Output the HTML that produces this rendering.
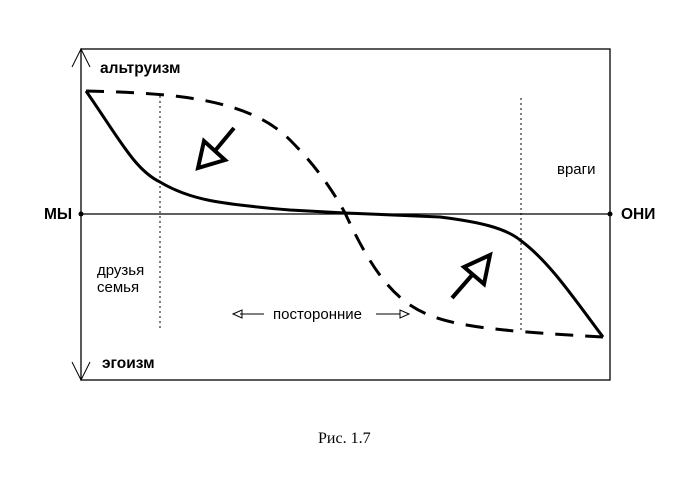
<!DOCTYPE html>
<html><head><meta charset="utf-8"><style>
body{margin:0;background:#fff;width:700px;height:500px;overflow:hidden}
svg{display:block}
text{font-family:"Liberation Sans",sans-serif}
</style></head><body>
<svg width="700" height="500" viewBox="0 0 700 500">
<g fill="none" stroke="#000">
<rect x="81" y="49" width="529" height="331" stroke-width="1.3"/>
<line x1="81" y1="214" x2="610" y2="214" stroke-width="1.3"/>
<polyline points="72,67 81,49 90,67" stroke-width="1"/>
<polyline points="72,362 81,380 90,362" stroke-width="1"/>
<line x1="160" y1="96" x2="160" y2="328" stroke-dasharray="2,3" stroke-width="1"/>
<line x1="521" y1="98" x2="521" y2="332" stroke-dasharray="2,3" stroke-width="1"/>
<path d="M86,91 C120,140 135,170 160,182 C190,200 220,204 290,210 L345,213 L440,217 C480,222 505,228 520,240 C550,262 575,300 603,337" stroke-width="3"/>
<path d="M86,91 C180,93 250,100 290,140 C320,170 335,195 345,213 C360,245 380,285 410,305 C440,325 480,330 603,337" stroke-width="3" stroke-dasharray="18,12"/>
<line x1="234" y1="128" x2="214" y2="152" stroke-width="4"/>
<polygon points="198,168 204,141 225,160" stroke-width="4" stroke-linejoin="miter"/>
<line x1="452" y1="298" x2="473" y2="274" stroke-width="4"/>
<polygon points="490,255 484,284 464,267" stroke-width="4" stroke-linejoin="miter"/>
<line x1="240" y1="314" x2="264" y2="314" stroke-width="1"/>
<polygon points="233,314 242,310 242,318" stroke-width="1"/>
<line x1="376" y1="314" x2="400" y2="314" stroke-width="1"/>
<polygon points="409,314 400,310 400,318" stroke-width="1"/>
</g>
<circle cx="81" cy="214" r="2.5"/>
<circle cx="610" cy="214" r="2.5"/>
<text x="100" y="73" font-size="15.5" font-weight="bold">альтруизм</text>
<text x="102" y="368" font-size="15.5" font-weight="bold">эгоизм</text>
<text x="44" y="219" font-size="15.5" font-weight="bold">МЫ</text>
<text x="621" y="219" font-size="15.5" font-weight="bold">ОНИ</text>
<text x="557" y="174" font-size="15">враги</text>
<text x="97" y="275" font-size="15">друзья</text>
<text x="97" y="292" font-size="15">семья</text>
<text x="273" y="319" font-size="15">посторонние</text>
<text x="318" y="443" font-size="16" style="font-family:'Liberation Serif',serif">Рис. 1.7</text>
</svg>
</body></html>
